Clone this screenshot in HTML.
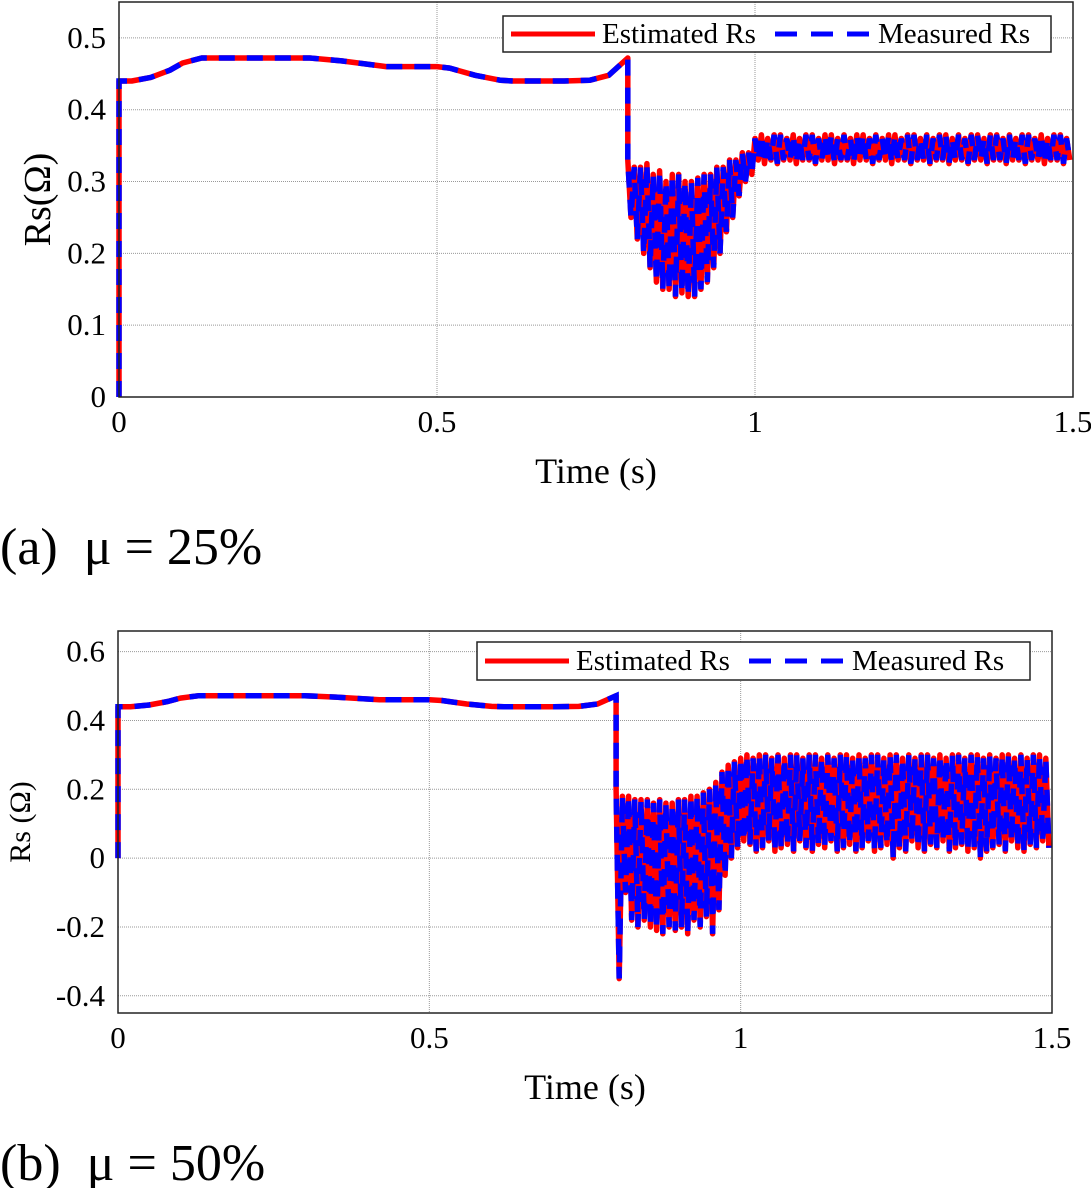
<!DOCTYPE html>
<html><head><meta charset="utf-8"><style>
html,body{margin:0;padding:0;background:#fff;}
svg{display:block;font-family:"Liberation Serif",serif;}
</style></head><body>
<svg id="fig" width="1091" height="1188" viewBox="0 0 1091 1188">
<text x="0" y="564" font-size="52" xml:space="preserve">(a)  μ = 25%</text>
<text x="0" y="1180" font-size="52" xml:space="preserve">(b)  μ = 50%</text>
</svg>
<script>
// shared smooth pre-fault curve
const smoothT=[0,0.02,0.05,0.08,0.1,0.13,0.2,0.3,0.35,0.42,0.5,0.52,0.56,0.6,0.62,0.7,0.74,0.77,0.8];
const smoothV=[0.44,0.44,0.445,0.455,0.465,0.472,0.472,0.472,0.468,0.46,0.46,0.458,0.448,0.441,0.44,0.44,0.441,0.448,0.472];
// oscillation envelope, t = 0.80 .. 1.49 step 0.01
const topHi=[.33,.32,.32,.325,.31,.315,.30,.31,.31,.30,.30,.305,.31,.31,.32,.32,.33,.33,.34,.34,
.36,.365,.36,.365,.365,.36,.365,.36,.365,.365,.36,.365,.365,.36,.365,.36,.365,.365,.36,.365,.36,.365,.365,.36,.365,.365,.36,.365,.36,.365,.365,.36,.365,.36,.365,.365,.36,.365,.365,.36,.365,.36,.365,.365,.36,.365,.36,.365,.365,.36];
const topLo=[.25,.22,.20,.18,.16,.15,.15,.14,.145,.14,.14,.15,.16,.18,.20,.23,.25,.28,.30,.31,
.33,.325,.33,.325,.33,.33,.325,.33,.33,.325,.33,.33,.325,.33,.33,.325,.33,.33,.325,.33,.33,.325,.33,.33,.325,.33,.33,.325,.33,.33,.325,.33,.33,.325,.33,.33,.325,.33,.33,.325,.33,.33,.325,.33,.33,.325,.33,.33,.325,.33];
const botHi=[.20,.18,.18,.17,.17,.17,.16,.17,.16,.16,.17,.17,.18,.18,.19,.20,.22,.25,.27,.28,
.29,.30,.29,.30,.30,.29,.30,.29,.30,.30,.29,.30,.30,.29,.30,.29,.30,.30,.29,.30,.29,.30,.30,.29,.30,.30,.29,.30,.29,.30,.30,.29,.30,.29,.30,.30,.29,.30,.30,.29,.30,.29,.30,.30,.29,.30,.29,.30,.30,.29];
const botLo=[-.35,-.10,-.18,-.20,-.18,-.20,-.21,-.22,-.20,-.21,-.20,-.22,-.18,-.20,-.17,-.22,-.15,-.05,0,.03,
.05,.04,.02,.03,.05,.02,.03,.04,.02,.05,.03,.02,.04,.03,.05,.02,.03,.04,.02,.03,.05,.02,.03,.04,0,.03,.02,.05,.03,.02,.04,.03,.05,.02,.03,.04,.02,.03,0,.02,.03,.04,.02,.05,.03,.02,.04,.03,.05,.03];
const xTicks=[0,0.5,1,1.5];
const xTickLabels=["0","0.5","1","1.5"];
const topYTicks=[0,0.1,0.2,0.3,0.4,0.5];
const topYLabels=["0","0.1","0.2","0.3","0.4","0.5"];
const botYTicks=[-0.4,-0.2,0,0.2,0.4,0.6];
const botYLabels=["-0.4","-0.2","0","0.2","0.4","0.6"];

const NS="http://www.w3.org/2000/svg";
const svg=document.getElementById('fig');
function el(tag,attrs,parent){const e=document.createElementNS(NS,tag);for(const k in attrs)e.setAttribute(k,attrs[k]);(parent||svg).appendChild(e);return e;}

function chart(cfg){
  const g=el('g',{});
  
  
  const X=t=>cfg.x0+(t/1.5)*(cfg.x1-cfg.x0);
  const Y=v=>cfg.y1-(v-cfg.ymin)/(cfg.ymax-cfg.ymin)*(cfg.y1-cfg.y0);
  xTicks.forEach((t,i)=>{
    if(i>0&&i<xTicks.length-1){const l=el('line',{x1:X(t),x2:X(t),y1:cfg.y0,y2:cfg.y1,stroke:'#999','stroke-width':1,'stroke-dasharray':'1 1'},g);
    }
    const tl=el('text',{x:X(t),y:cfg.y1+35,'font-size':31,'text-anchor':'middle'},g);tl.textContent=xTickLabels[i];
    
  });
  cfg.yt.forEach((v,i)=>{
    const l=el('line',{x1:cfg.x0,x2:cfg.x1,y1:Y(v),y2:Y(v),stroke:'#999','stroke-width':1,'stroke-dasharray':'1 1'},g);
    
    const tl=el('text',{x:cfg.x0-13,y:Y(v)+10,'font-size':31,'text-anchor':'end'},g);tl.textContent=cfg.yl[i];
    
  });
  let pts=[[X(0),Y(0)]];
  smoothT.forEach((t,i)=>pts.push([X(t),Y(smoothV[i])]));
  cfg.hi.forEach((h,i)=>{const t=0.80+i*0.01;pts.push([X(t),Y(h)]);pts.push([X(t+0.005),Y(cfg.lo[i])]);});
  const d='M'+pts.map(p=>p[0].toFixed(1)+','+p[1].toFixed(1)).join('L');
  const r=el('path',{d:d,fill:'none',stroke:'#f00','stroke-width':5.5,'stroke-linejoin':'round'},g);
  
  const b=el('path',{d:d,fill:'none',stroke:'#00f','stroke-width':5.5,'stroke-dasharray':'16 12'},g);
  
  const f=el('rect',{x:cfg.x0,y:cfg.y0,width:cfg.x1-cfg.x0,height:cfg.y1-cfg.y0,fill:'none',stroke:'#222','stroke-width':1.5},g);
  
  const L=cfg.leg;
  const lg=el('g',{},g);
  el('rect',{x:L[0],y:L[1],width:L[2],height:L[3],fill:'#fff',stroke:'#222','stroke-width':1.5},lg);
  const my=L[1]+L[3]/2;
  el('line',{x1:L[0]+8,x2:L[0]+92,y1:my,y2:my,stroke:'#f00','stroke-width':5},lg);
  const t1=el('text',{x:L[0]+99,y:my+9,'font-size':29},lg);t1.textContent='Estimated Rs';
  
  el('line',{x1:L[0]+272,x2:L[0]+370,y1:my,y2:my,stroke:'#00f','stroke-width':5,'stroke-dasharray':'22 14'},lg);
  const t2=el('text',{x:L[0]+375,y:my+9,'font-size':29},lg);t2.textContent='Measured Rs';
  
  const xt=el('text',{x:(cfg.x0+cfg.x1)/2,y:cfg.y1+86,'font-size':36,'text-anchor':'middle'},g);xt.textContent='Time (s)';
  
  const yt=el('text',{x:0,y:0,'font-size':cfg.ytfs,'text-anchor':'middle',transform:`translate(${cfg.ytx},${(cfg.y0+cfg.y1)/2}) rotate(-90)`},g);yt.textContent=cfg.ytitle;
  
}
chart({name:'chart-a',x0:119,x1:1073,y0:2,y1:397,ymin:0,ymax:0.55,yt:topYTicks,yl:topYLabels,hi:topHi,lo:topLo,leg:[503,16,548,36],ytitle:'Rs(Ω)',ytx:50,ytfs:38});
chart({name:'chart-b',x0:118,x1:1052,y0:631,y1:1013,ymin:-0.45,ymax:0.66,yt:botYTicks,yl:botYLabels,hi:botHi,lo:botLo,leg:[477,642,553,38],ytitle:'Rs (Ω)',ytx:30,ytfs:30});
</script>
</body></html>
